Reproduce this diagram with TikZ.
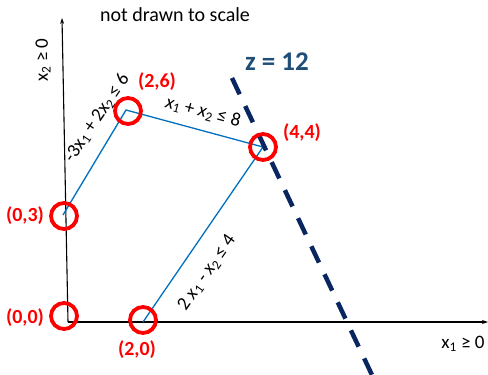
\documentclass[tikz,border=0pt]{standalone}
\usepackage{fontspec}
\setmainfont{Carlito}
\usetikzlibrary{arrows.meta}

\definecolor{lineblue}{HTML}{0070C0}
\definecolor{zline}{HTML}{0A2660}
\definecolor{zlabel}{HTML}{1F4E79}

\tikzset{
  corner/.style={circle, draw=red, line width=3.8pt, minimum size=26pt, inner sep=0pt},
  cornerlabel/.style={text=red, font=\bfseries\fontsize{20}{24}\selectfont},
  edge/.style={draw=lineblue, line width=1.3pt},
  constraint/.style={font=\fontsize{19}{22}\selectfont},
  axis/.style={line width=1.1pt, -{Stealth[length=6pt,width=4pt]}}
}

\begin{document}
\begin{tikzpicture}[x=1pt, y=-1pt]
    \useasboundingbox (0,0) rectangle (488,375);

    % Axes
    \coordinate (O) at (68,322);
    \coordinate (ytip) at (62,18);
    \coordinate (xtip) at (488,322);
    \draw[axis] (O) -- (ytip);
    \draw[axis] (O) -- (xtip);
    \node[font=\fontsize{19}{22}\selectfont, rotate=90] (ylab) at (43,60) {x\textsubscript{2} ≥ 0};
    \node[font=\fontsize{19}{22}\selectfont] (xlab) at (463,344) {x\textsubscript{1} ≥ 0};

    % Note
    \node[font=\fontsize{20}{24}\selectfont] (note) at (175,15) {not drawn to scale};

    % Feasible region boundary
    \coordinate (v03) at (63,215);
    \coordinate (v26) at (126,110);
    \coordinate (v44) at (263,147);
    \coordinate (v20) at (143,322);
    \draw[edge] (v03) -- (v26) -- (v44) -- (v20);

    % Objective line z = 12
    \coordinate (ztop) at (232,78);
    \coordinate (zbot) at (372,375);
    \draw[zline, line width=4.5pt, dash pattern=on 18pt off 13pt] (ztop) -- (zbot);
    \node[text=zlabel, font=\bfseries\fontsize{27}{30}\selectfont] (zval) at (277,62) {z = 12};

    % Constraint labels
    \node[constraint, rotate=56] (con1) at (97,118) {-3x\textsubscript{1} + 2x\textsubscript{2} ≤ 6};
    \node[constraint, rotate=-15] (con2) at (203,112) {\textit{x}\textsubscript{1} + \textit{x}\textsubscript{2} ≤ 8};
    \node[constraint, rotate=55] (con3) at (207,273) {2 \textit{x}\textsubscript{1} - \textit{x}\textsubscript{2} ≤ 4};

    % Corner points
    \node[corner] (c00) at (64,316) {};
    \node[corner] (c03) at (64,216) {};
    \node[corner] (c20) at (143,320) {};
    \node[corner] (c26) at (128,111) {};
    \node[corner] (c44) at (263,147) {};

    \node[cornerlabel] (l00) at (25,318) {(0,0)};
    \node[cornerlabel] (l03) at (25,216) {(0,3)};
    \node[cornerlabel] (l20) at (137,350) {(2,0)};
    \node[cornerlabel] (l26) at (157,82) {(2,6)};
    \node[cornerlabel] (l44) at (302,133) {(4,4)};
\end{tikzpicture}
\end{document}
